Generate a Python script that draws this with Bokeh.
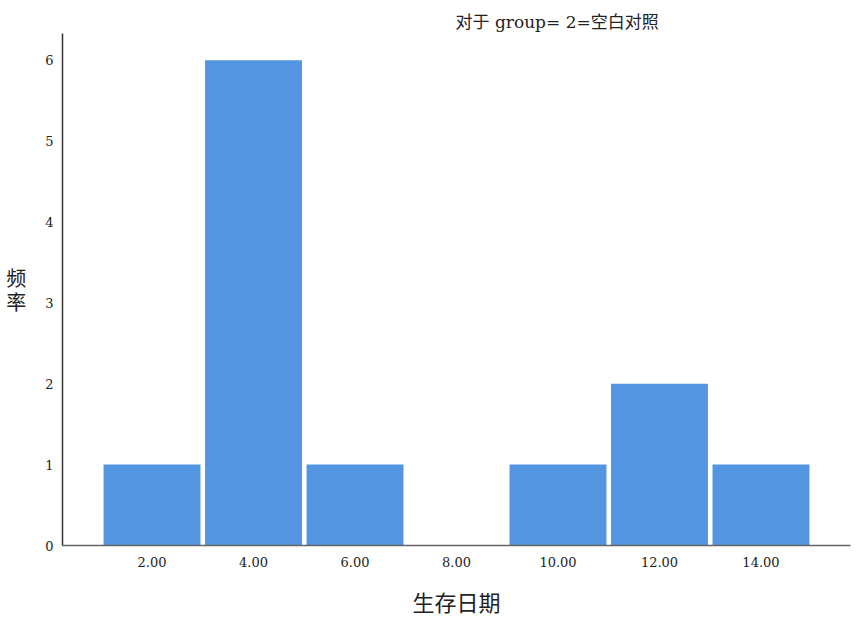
from bokeh.plotting import figure
from bokeh.models import FixedTicker, NumeralTickFormatter, Range1d, Title
from bokeh.embed import file_html
from bokeh.resources import INLINE

# Histogram of survival days for group 2 (blank control)
days = [2, 4, 6, 8, 10, 12, 14]
counts = [1, 6, 1, 0, 1, 2, 1]
y_ticks = [0, 1, 2, 3, 4, 5, 6]

SERIF = "DejaVu Serif, Noto Sans CJK SC"
CJK = "Noto Sans CJK SC"

p = figure(
    width=860, height=620,
    output_backend="svg", toolbar_location=None,
    x_range=Range1d(0.236, 15.764), y_range=Range1d(0, 6.33),
    min_border_left=62, min_border_right=10,
    min_border_top=33, min_border_bottom=75,
)
p.frame_width = 788
p.frame_height = 512

p.vbar(x=days, top=counts, width=1.91, bottom=0,
       fill_color="#5495e2", line_color=None)

p.add_layout(Title(text="对于 group= 2=空白对照", align="left", offset=393,
                   text_font=SERIF, text_font_size="17px",
                   text_font_style="normal", text_color="#222222",
                   standoff=4), "above")

p.xgrid.visible = False
p.ygrid.visible = False
p.outline_line_color = None

xa = p.xaxis[0]
xa.ticker = FixedTicker(ticks=days)
xa.formatter = NumeralTickFormatter(format="0.00")
xa.major_tick_out = 0
xa.major_tick_in = 0
xa.minor_tick_out = 0
xa.minor_tick_in = 0
xa.major_label_standoff = 11
xa.major_label_text_font = SERIF
xa.major_label_text_font_size = "13px"
xa.major_label_text_color = "#222222"
xa.axis_line_color = "#666666"
xa.axis_line_width = 1.5
xa.axis_label = "生存日期"
xa.axis_label_text_font = CJK
xa.axis_label_text_font_size = "22px"
xa.axis_label_text_font_style = "normal"
xa.axis_label_text_color = "#222222"
xa.axis_label_standoff = 15

ya = p.yaxis[0]
ya.ticker = FixedTicker(ticks=y_ticks)
ya.major_tick_out = 0
ya.major_tick_in = 0
ya.minor_tick_out = 0
ya.minor_tick_in = 0
ya.major_label_standoff = 9
ya.major_label_text_font = SERIF
ya.major_label_text_font_size = "13px"
ya.major_label_text_color = "#222222"
ya.axis_line_color = "#333333"
ya.axis_line_width = 1.5
ya.axis_label = "频\n率"
ya.axis_label_orientation = "horizontal"
ya.axis_label_text_font = CJK
ya.axis_label_text_font_size = "20px"
ya.axis_label_text_line_height = 0.8
ya.axis_label_text_font_style = "normal"
ya.axis_label_text_color = "#222222"
ya.axis_label_standoff = 16

open("out.html", "w").write(file_html(p, INLINE))
